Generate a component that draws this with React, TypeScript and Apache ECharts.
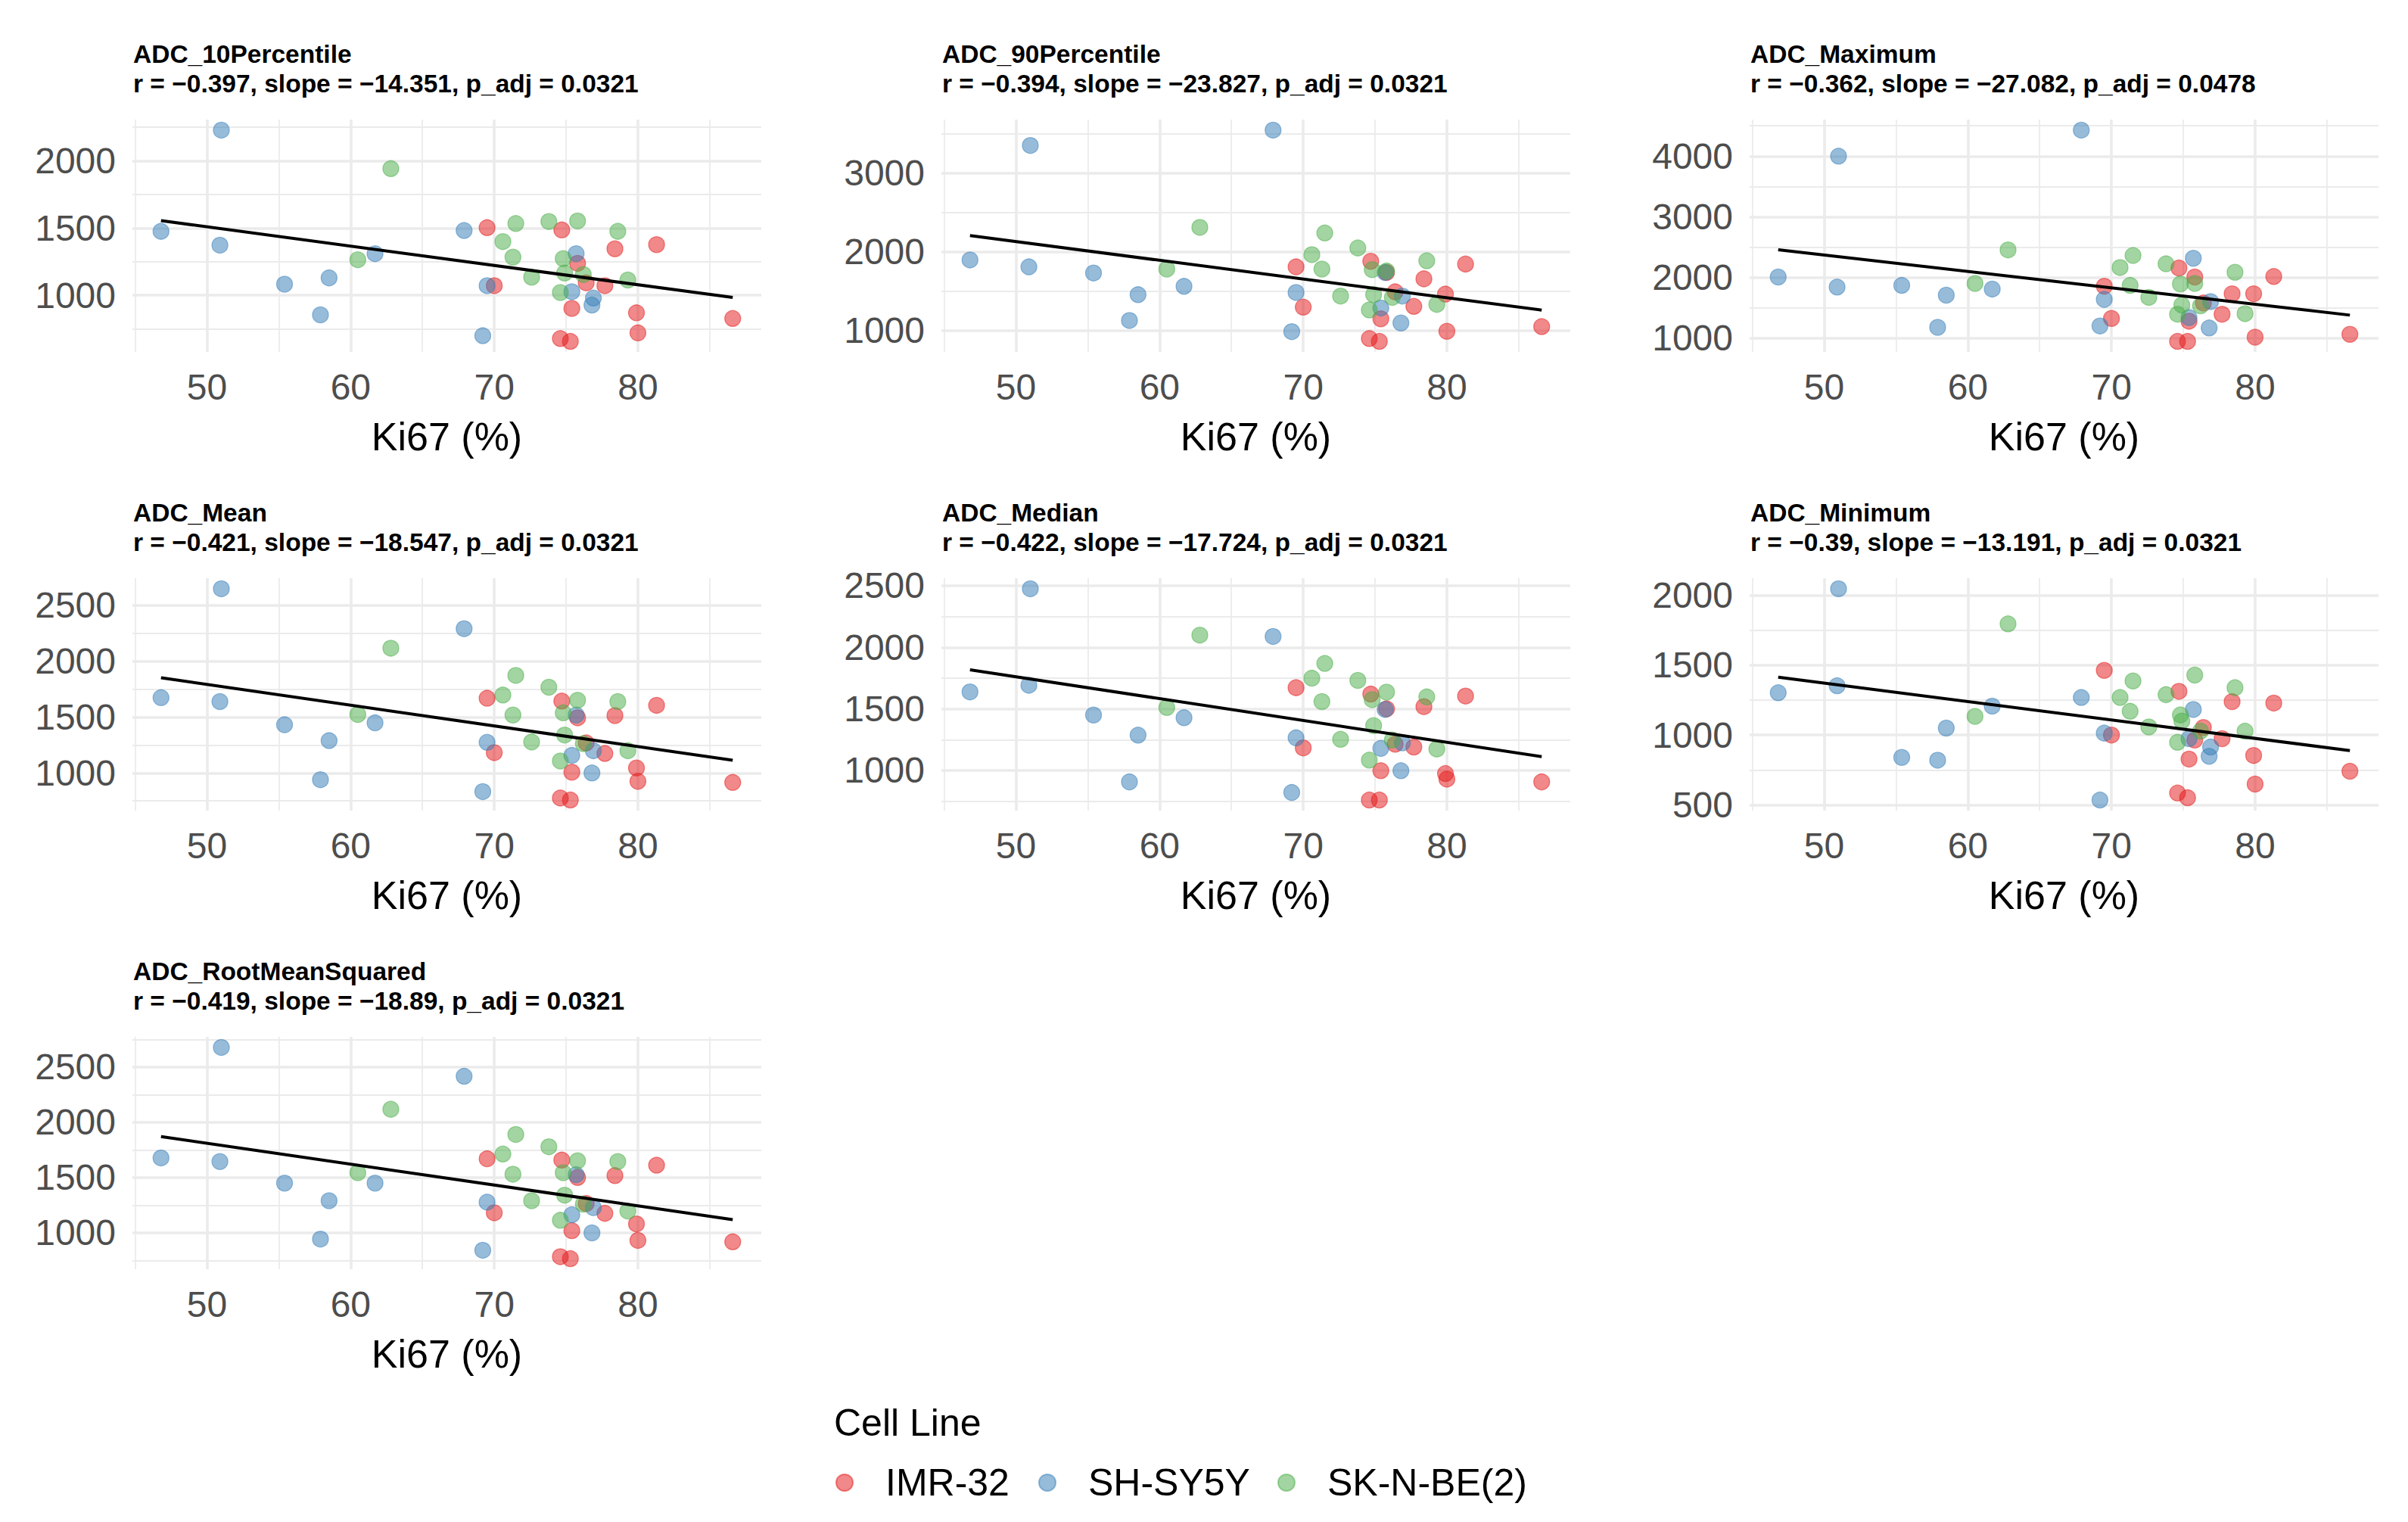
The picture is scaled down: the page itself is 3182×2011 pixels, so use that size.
import { useEffect, useRef } from "react";
import * as echarts from "echarts";

// cell lines and their Set1 colours
const cellLines = ["IMR-32", "SH-SY5Y", "SK-N-BE(2)"];
const lineRgb = ["228,26,28", "55,126,184", "77,175,74"];

// Ki67 (%) per sample, one list per cell line
const ki67Imr = [69.5, 70.0, 74.6, 74.7, 75.3, 75.4, 75.8, 76.4, 77.7, 78.4, 79.9, 80.0, 81.3, 86.6];
const ki67Sh = [46.8, 50.9, 51.0, 55.4, 57.9, 58.5, 61.7, 67.9, 69.2, 69.5, 75.4, 75.7, 76.8, 76.9];
const ki67Sk = [60.5, 62.8, 70.6, 71.3, 71.5, 72.6, 73.8, 74.6, 74.8, 74.9, 75.8, 76.2, 78.6, 79.3];

// ADC values per metric: [IMR-32, SH-SY5Y, SK-N-BE(2)]
const adc10Percentile = [
  [1503, 1072, 679, 1486, 658, 903, 1238, 1093, 1072, 1346, 870, 721, 1377, 828],
  [1476, 1373, 2228, 1083, 855, 1130, 1310, 1482, 700, 1072, 1027, 1310, 928, 980],
  [1265, 1942, 1400, 1284, 1534, 1135, 1549, 1021, 1273, 1166, 1553, 1155, 1476, 1114],
];
const adc90Percentile = [
  [1807, 1294, 894, 1878, 858, 1145, 1736, 1489, 1304, 1655, 1460, 986, 1843, 1046],
  [1896, 1807, 3354, 1729, 1124, 1453, 1559, 3549, 982, 1481, 1283, 1736, 1092, 1435],
  [1779, 2310, 1963, 1779, 2239, 1435, 2048, 1258, 1772, 1453, 1754, 1418, 1885, 1329],
];
const adcMaximum = [
  [1857, 1327, 949, 2157, 949, 1281, 2009, 1581, 1396, 1733, 1733, 1018, 2018, 1065],
  [2009, 1843, 4000, 1871, 1180, 1710, 1811, 4428, 1203, 1640, 1341, 2318, 1170, 1604],
  [1903, 2456, 2166, 1871, 2364, 1673, 2226, 1396, 1894, 1548, 1903, 1535, 2087, 1405],
];
const adcMean = [
  [1668, 1182, 776, 1643, 758, 1007, 1493, 1269, 1174, 1513, 1045, 925, 1605, 915],
  [1673, 1638, 2647, 1431, 940, 1289, 1448, 2290, 833, 1274, 1157, 1518, 1000, 1199],
  [1523, 2116, 1697, 1518, 1872, 1277, 1767, 1107, 1538, 1339, 1650, 1262, 1638, 1199],
];
const adcMedian = [
  [1672, 1183, 760, 1620, 760, 998, 1500, 1213, 1190, 1518, 975, 930, 1604, 907],
  [1638, 1692, 2475, 1450, 907, 1287, 1428, 2088, 821, 1265, 1179, 1495, 998, 1224],
  [1511, 2099, 1749, 1559, 1869, 1253, 1731, 1084, 1575, 1364, 1636, 1247, 1597, 1174],
];
const adcMinimum = [
  [1463, 1000, 585, 1313, 551, 828, 964, 1054, 974, 1239, 854, 649, 1229, 741],
  [1303, 1353, 2047, 840, 820, 1050, 1207, 1269, 535, 1014, 974, 1183, 848, 914],
  [1134, 1796, 1269, 1170, 1387, 1058, 1289, 948, 1144, 1100, 1429, 1028, 1339, 1028],
];
const adcRootMeanSquared = [
  [1670, 1182, 785, 1658, 767, 1020, 1501, 1266, 1177, 1518, 1081, 932, 1612, 919],
  [1678, 1645, 2677, 1450, 944, 1291, 1450, 2416, 843, 1278, 1164, 1526, 1000, 1228],
  [1544, 2118, 1713, 1531, 1890, 1291, 1779, 1114, 1544, 1341, 1652, 1260, 1645, 1197],
];

const metricNames = [
  "ADC_10Percentile",
  "ADC_90Percentile",
  "ADC_Maximum",
  "ADC_Mean",
  "ADC_Median",
  "ADC_Minimum",
  "ADC_RootMeanSquared",
];
const rValues = [-0.397, -0.394, -0.362, -0.421, -0.422, -0.39, -0.419];
const slopes = [-14.351, -23.827, -27.082, -18.547, -17.724, -13.191, -18.89];
const pAdj = [0.0321, 0.0321, 0.0478, 0.0321, 0.0321, 0.0321, 0.0321];
const yBreakSteps = [500, 1000, 1000, 500, 500, 500, 500];
const xBreaks = [50, 60, 70, 80];
const xMinorBreaks = [45, 55, 65, 75, 85];

const metricData = [
  adc10Percentile,
  adc90Percentile,
  adcMaximum,
  adcMean,
  adcMedian,
  adcMinimum,
  adcRootMeanSquared,
];
const ki67 = [ki67Imr, ki67Sh, ki67Sk];

const FONT = '"Liberation Sans", Arial, sans-serif';
const colLeft = [175, 1244, 2312];
const rowTop = [158, 764, 1370];
const panelW = 831;
const panelH = 307;
const legendLeft = [1104, 1372, 1688];

const fmt = (v: number) => (v < 0 ? "\u2212" + Math.abs(v) : String(v));

function padRange(vals: number[]) {
  const lo = Math.min(...vals);
  const hi = Math.max(...vals);
  const pad = (hi - lo) * 0.05;
  return [lo - pad, hi + pad];
}

function majors(lo: number, hi: number, step: number) {
  const out: number[] = [];
  for (let v = Math.ceil(lo / step) * step; v <= hi; v += step) out.push(v);
  return out;
}

function minors(lo: number, hi: number, step: number) {
  const out: number[] = [];
  for (let k = Math.ceil(lo / step - 0.5); (k + 0.5) * step <= hi; k++) out.push((k + 0.5) * step);
  return out;
}

function App() {
  const chartRef = useRef<HTMLDivElement>(null);

  useEffect(() => {
    const chart = echarts.init(chartRef.current, null, { renderer: "svg" });

    const allX = ki67.flat();
    const [xMin, xMax] = padRange(allX);
    const xLo = Math.min(...allX);
    const xHi = Math.max(...allX);

    const grids: any[] = [];
    const xAxes: any[] = [];
    const yAxes: any[] = [];
    const series: any[] = [];
    const titles: any[] = [];

    metricNames.forEach((name, i) => {
      const col = i % 3;
      const row = Math.floor(i / 3);
      const vals = metricData[i];
      const allY = vals.flat();
      const [yMin, yMax] = padRange(allY);
      const step = yBreakSteps[i];

      grids.push({
        left: colLeft[col],
        top: rowTop[row],
        width: panelW,
        height: panelH,
        containLabel: false,
        outerBoundsMode: "none",
      });

      titles.push({
        text: `${name}\nr = ${fmt(rValues[i])}, slope = ${fmt(slopes[i])}, p_adj = ${pAdj[i]}`,
        left: colLeft[col] + 1,
        top: rowTop[row] - 106,
        padding: 0,
        textStyle: {
          fontFamily: FONT,
          fontSize: 33.5,
          fontWeight: "bold",
          lineHeight: 39,
          color: "#000",
        },
      });

      xAxes.push(
        {
          type: "value",
          gridIndex: i,
          min: xMin,
          max: xMax,
          position: "bottom",
          axisLine: { show: false },
          axisTick: { show: false, customValues: xBreaks },
          axisLabel: {
            customValues: xBreaks,
            formatter: (v: number) => `${v}`,
            fontFamily: FONT,
            fontSize: 48,
            color: "#4D4D4D",
            margin: 22,
          },
          splitLine: { show: true, lineStyle: { color: "#EBEBEB", width: 3.6 } },
          name: "Ki67 (%)",
          nameLocation: "middle",
          nameGap: 86,
          nameTextStyle: { fontFamily: FONT, fontSize: 52, color: "#000" },
        },
        {
          type: "value",
          gridIndex: i,
          min: xMin,
          max: xMax,
          position: "top",
          axisLine: { show: false },
          axisTick: { show: false, customValues: xMinorBreaks },
          axisLabel: { show: false },
          splitLine: { show: true, lineStyle: { color: "#EBEBEB", width: 1.8 } },
        }
      );

      yAxes.push(
        {
          type: "value",
          gridIndex: i,
          min: yMin,
          max: yMax,
          position: "left",
          axisLine: { show: false },
          axisTick: { show: false, customValues: majors(yMin, yMax, step) },
          axisLabel: {
            customValues: majors(yMin, yMax, step),
            formatter: (v: number) => `${v}`,
            fontFamily: FONT,
            fontSize: 48,
            color: "#4D4D4D",
            margin: 22,
          },
          splitLine: { show: true, lineStyle: { color: "#EBEBEB", width: 3.6 } },
        },
        {
          type: "value",
          gridIndex: i,
          min: yMin,
          max: yMax,
          position: "right",
          axisLine: { show: false },
          axisTick: { show: false, customValues: minors(yMin, yMax, step) },
          axisLabel: { show: false },
          splitLine: { show: true, lineStyle: { color: "#EBEBEB", width: 1.8 } },
        }
      );

      cellLines.forEach((line, k) => {
        series.push({
          type: "scatter",
          name: line,
          xAxisIndex: 2 * i,
          yAxisIndex: 2 * i,
          symbolSize: 21,
          itemStyle: {
            color: `rgba(${lineRgb[k]},0.65)`,
            borderColor: `rgba(${lineRgb[k]},0.65)`,
            borderWidth: 1.3,
          },
          z: 2,
          data: ki67[k].map((x, j) => [x, vals[k][j]]),
        });
      });

      // least-squares line: given slope, through the mean point
      const meanX = allX.reduce((a, b) => a + b, 0) / allX.length;
      const meanY = allY.reduce((a, b) => a + b, 0) / allY.length;
      const fit = (x: number) => meanY + slopes[i] * (x - meanX);
      series.push({
        type: "line",
        xAxisIndex: 2 * i,
        yAxisIndex: 2 * i,
        symbol: "none",
        silent: true,
        z: 3,
        lineStyle: { color: "#000", width: 4 },
        data: [
          [xLo, fit(xLo)],
          [xHi, fit(xHi)],
        ],
      });
    });

    // one legend block per cell line, placed like ggplot's horizontal key
    const legends = cellLines.map((line, k) => ({
      data: [line],
      left: legendLeft[k],
      top: 1934,
      padding: 0,
      orient: "horizontal",
      icon: "circle",
      itemWidth: 98,
      itemHeight: 22,
      selectedMode: false,
      textStyle: { fontFamily: FONT, fontSize: 50, color: "#000" },
    }));

    const option = {
      animation: false,
      backgroundColor: "#fff",
      title: titles,
      grid: grids,
      xAxis: xAxes,
      yAxis: yAxes,
      series,
      legend: legends,
      graphic: [
        {
          type: "text",
          left: 1102,
          top: 1855,
          style: {
            text: "Cell Line",
            font: `50px ${FONT}`,
            fill: "#000",
          },
        },
      ],
    };

    chart.setOption(option);

    return () => {
      chart.dispose();
    };
  }, []);

  return (
    <div
      ref={chartRef}
      style={{ position: "fixed", left: 0, top: 0, width: "100vw", height: "100vh" }}
    />
  );
}

export default App;
